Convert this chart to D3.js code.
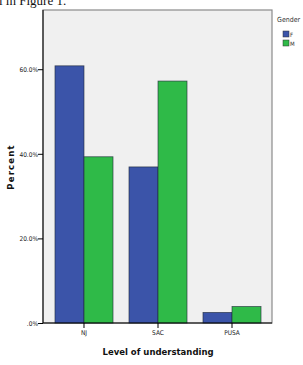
<!DOCTYPE html>
<html>
<head>
<meta charset="utf-8">
<script src="https://cdn.jsdelivr.net/npm/d3@7"></script>
<style>
  body { margin: 0; background: #fff; }
  svg { display: block; }
</style>
</head>
<body>
<div id="viz"></div>
<script>
'use strict';

const levels = ['NJ', 'SAC', 'PUSA'];
const genders = ['F', 'M'];
const percentF = [60.8, 36.9, 2.5];
const percentM = [39.3, 57.2, 3.9];
const yTicks = [0, 20, 40, 60];

const colors = {F: '#3b54a9', M: '#2fba48'};

const W = 303, H = 365;
const plot = {left: 43, right: 272, top: 10, bottom: 323};

const svg = d3.select('#viz')
  .append('svg')
    .attr('width', W)
    .attr('height', H);

// caption text, cut off at the top like in the source page
svg.append('text')
  .attr('x', -1)
  .attr('y', 5)
  .attr('font-family', 'Liberation Serif, serif')
  .attr('font-size', 13)
  .attr('fill', '#111')
  .text('l in Figure 1.');

// plot background and frame
svg.append('rect')
  .attr('x', plot.left)
  .attr('y', plot.top)
  .attr('width', plot.right - plot.left)
  .attr('height', plot.bottom - plot.top)
  .attr('fill', '#f0f0f0')
  .attr('stroke', '#8a8a8a')
  .attr('stroke-width', 1.2);

const x = d3.scaleBand()
  .domain(levels)
  .range([plot.left, plot.right + 1])
  .paddingInner(0.216)
  .paddingOuter(0.162);

const xSub = d3.scaleBand()
  .domain(genders)
  .range([0, x.bandwidth()]);

const y = d3.scaleLinear()
  .domain([0, 74])
  .range([plot.bottom, plot.top]);

const rows = levels.map((lv, i) => ({level: lv, F: percentF[i], M: percentM[i]}));

const groups = svg.append('g')
  .selectAll('g')
  .data(rows)
  .join('g')
    .attr('transform', d => `translate(${x(d.level)},0)`);

groups.selectAll('rect')
  .data(d => genders.map(g => ({gender: g, value: d[g]})))
  .join('rect')
    .attr('x', d => xSub(d.gender))
    .attr('y', d => y(d.value))
    .attr('width', xSub.bandwidth())
    .attr('height', d => y(0) - y(d.value))
    .attr('fill', d => colors[d.gender])
    .attr('stroke', '#1f2a3a')
    .attr('stroke-opacity', 0.75)
    .attr('stroke-width', 0.8);

// Y axis
const yAxis = svg.append('g')
  .attr('transform', `translate(${plot.left},0)`)
  .call(d3.axisLeft(y)
    .tickValues(yTicks)
    .tickSize(5)
    .tickFormat(d => d === 0 ? '.0%' : d.toFixed(1) + '%'));
yAxis.select('.domain').attr('stroke', '#000').attr('d', `M0,${plot.top}V${plot.bottom}`);
yAxis.selectAll('.tick line').attr('stroke', '#000');
yAxis.selectAll('.tick text')
  .attr('font-family', 'DejaVu Sans Condensed, sans-serif')
  .attr('font-size', 6.5)
  .attr('fill', '#222')
  .attr('x', -5)
  .attr('dy', '0.35em');

// X axis
const xAxis = svg.append('g')
  .attr('transform', `translate(0,${plot.bottom})`)
  .call(d3.axisBottom(x).tickSize(5).tickSizeOuter(0));
xAxis.select('.domain').attr('stroke', '#000').attr('d', `M${plot.left},0H${plot.right}`);
xAxis.selectAll('.tick line').attr('stroke', '#000');
xAxis.selectAll('.tick text')
  .attr('font-family', 'DejaVu Sans Condensed, sans-serif')
  .attr('font-size', 6.5)
  .attr('fill', '#222')
  .attr('y', 7);

// axis titles
svg.append('text')
  .attr('transform', `translate(14,167) rotate(-90)`)
  .attr('text-anchor', 'middle')
  .attr('font-family', 'DejaVu Sans, sans-serif')
  .attr('font-weight', 'bold')
  .attr('font-size', 8.5)
  .attr('letter-spacing', 1.2)
  .attr('fill', '#111')
  .text('Percent');

svg.append('text')
  .attr('x', 158)
  .attr('y', 355)
  .attr('text-anchor', 'middle')
  .attr('font-family', 'DejaVu Sans, sans-serif')
  .attr('font-weight', 'bold')
  .attr('font-size', 8.5)
  .attr('fill', '#111')
  .text('Level of understanding');

// legend
const legend = svg.append('g').attr('transform', 'translate(277,0)');
legend.append('text')
  .attr('x', 0)
  .attr('y', 22)
  .attr('font-family', 'DejaVu Sans Condensed, sans-serif')
  .attr('font-size', 7)
  .attr('fill', '#333')
  .text('Gender');

const li = legend.selectAll('.li')
  .data(genders)
  .join('g')
    .attr('class', 'li')
    .attr('transform', (d, i) => `translate(6,${31 + i * 9})`);
li.append('rect')
  .attr('width', 6)
  .attr('height', 6)
  .attr('fill', d => colors[d])
  .attr('stroke', '#333')
  .attr('stroke-width', 0.5);
li.append('text')
  .attr('x', 7)
  .attr('y', 5.5)
  .attr('font-family', 'DejaVu Sans Condensed, sans-serif')
  .attr('font-size', 6)
  .attr('fill', '#333')
  .text(d => d);
</script>
</body>
</html>
